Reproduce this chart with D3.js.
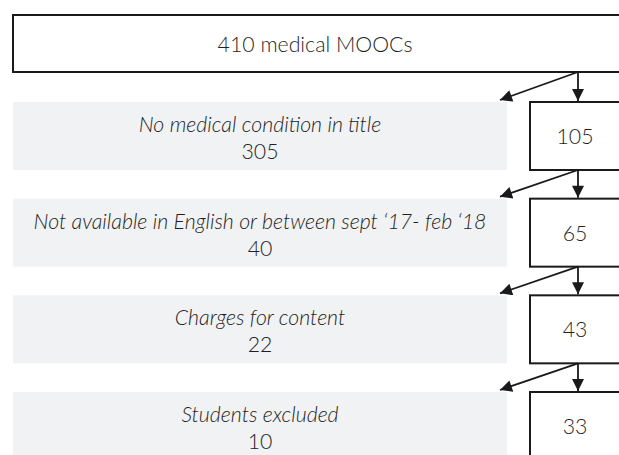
<!DOCTYPE html>
<html>
<head>
<meta charset="utf-8">
<script src="https://cdn.jsdelivr.net/npm/d3@7"></script>
<style>
  body { margin: 0; background: #fff; }
  svg { display: block; font-family: Lato, "Open Sans", sans-serif; }
</style>
</head>
<body>
<div id="chart"></div>
<script>
// flow of MOOC selection
const startLabel = "410 medical MOOCs";
const excludedLabels = [
    "No medical condition in title",
    "Not available in English or between sept \u201817- feb \u201818",
    "Charges for content",
    "Students excluded"
];
const excludedCounts = [305, 40, 22, 10];
const remainingCounts = [105, 65, 43, 33];

const width = 619, height = 455;
const fs = 21.3;

let svg = d3.select("#chart").append("svg")
    .attr("width", width)
    .attr("height", height);

svg.append("defs").append("marker")
    .attr("id", "head")
    .attr("viewBox", "0 0 10 10")
    .attr("refX", 10).attr("refY", 5)
    .attr("markerWidth", 13).attr("markerHeight", 12)
    .attr("markerUnits", "userSpaceOnUse")
    .attr("orient", "auto")
    .append("path")
    .attr("d", "M0,0 L10,5 L0,10 Z")
    .attr("fill", "#1a1a1a");

// row positions
let rowY = d3.scaleLinear()
    .domain([0, excludedCounts.length - 1])
    .range([102, 392]);
const rowH = 68;
const greyX0 = 13, greyX1 = 507;
const boxX0 = 530;
const stemX = 578;

// top box
svg.append("rect")
    .attr("x", 13).attr("y", 15)
    .attr("width", 640).attr("height", 57)
    .attr("fill", "#fff").attr("stroke", "#1a1a1a").attr("stroke-width", 2);
svg.append("text")
    .attr("x", 315).attr("y", 52)
    .attr("text-anchor", "middle")
    .attr("font-size", fs).attr("font-weight", 300)
    .attr("fill", "#1f1f1f")
    .text(startLabel);

let rows = svg.selectAll("g.row")
    .data(excludedCounts.map((d, i) => ({ label: excludedLabels[i], n: d, left: remainingCounts[i], i })))
    .join("g")
    .attr("class", "row");

// arrows from previous box
rows.append("line")
    .attr("x1", stemX).attr("y1", d => d.i === 0 ? 72 : rowY(d.i - 1) + rowH)
    .attr("x2", stemX).attr("y2", d => rowY(d.i) - 1)
    .attr("stroke", "#1a1a1a").attr("stroke-width", 1.8)
    .attr("marker-end", "url(#head)");
rows.append("line")
    .attr("x1", stemX).attr("y1", d => d.i === 0 ? 72 : rowY(d.i - 1) + rowH)
    .attr("x2", 500).attr("y2", d => rowY(d.i) - 2)
    .attr("stroke", "#1a1a1a").attr("stroke-width", 1.8)
    .attr("marker-end", "url(#head)");

// excluded (grey) boxes
rows.append("rect")
    .attr("x", greyX0).attr("y", d => rowY(d.i))
    .attr("width", greyX1 - greyX0).attr("height", rowH)
    .attr("fill", "#f1f2f4");
rows.append("text")
    .attr("x", (greyX0 + greyX1) / 2).attr("y", d => rowY(d.i) + 30)
    .attr("text-anchor", "middle")
    .attr("font-size", fs).attr("font-style", "italic").attr("font-weight", 300)
    .attr("fill", "#1f1f1f")
    .text(d => d.label);
rows.append("text")
    .attr("x", (greyX0 + greyX1) / 2).attr("y", d => rowY(d.i) + 57)
    .attr("text-anchor", "middle")
    .attr("font-size", fs).attr("font-weight", 300)
    .attr("fill", "#1f1f1f")
    .text(d => d.n);

// remaining boxes
rows.append("rect")
    .attr("x", boxX0).attr("y", d => rowY(d.i))
    .attr("width", 120).attr("height", d => d.i === 3 ? 100 : rowH)
    .attr("fill", "#fff").attr("stroke", "#1a1a1a").attr("stroke-width", 2);
rows.append("text")
    .attr("x", 575).attr("y", d => rowY(d.i) + 42)
    .attr("text-anchor", "middle")
    .attr("font-size", fs).attr("font-weight", 300)
    .attr("fill", "#1f1f1f")
    .text(d => d.left);
</script>
</body>
</html>
